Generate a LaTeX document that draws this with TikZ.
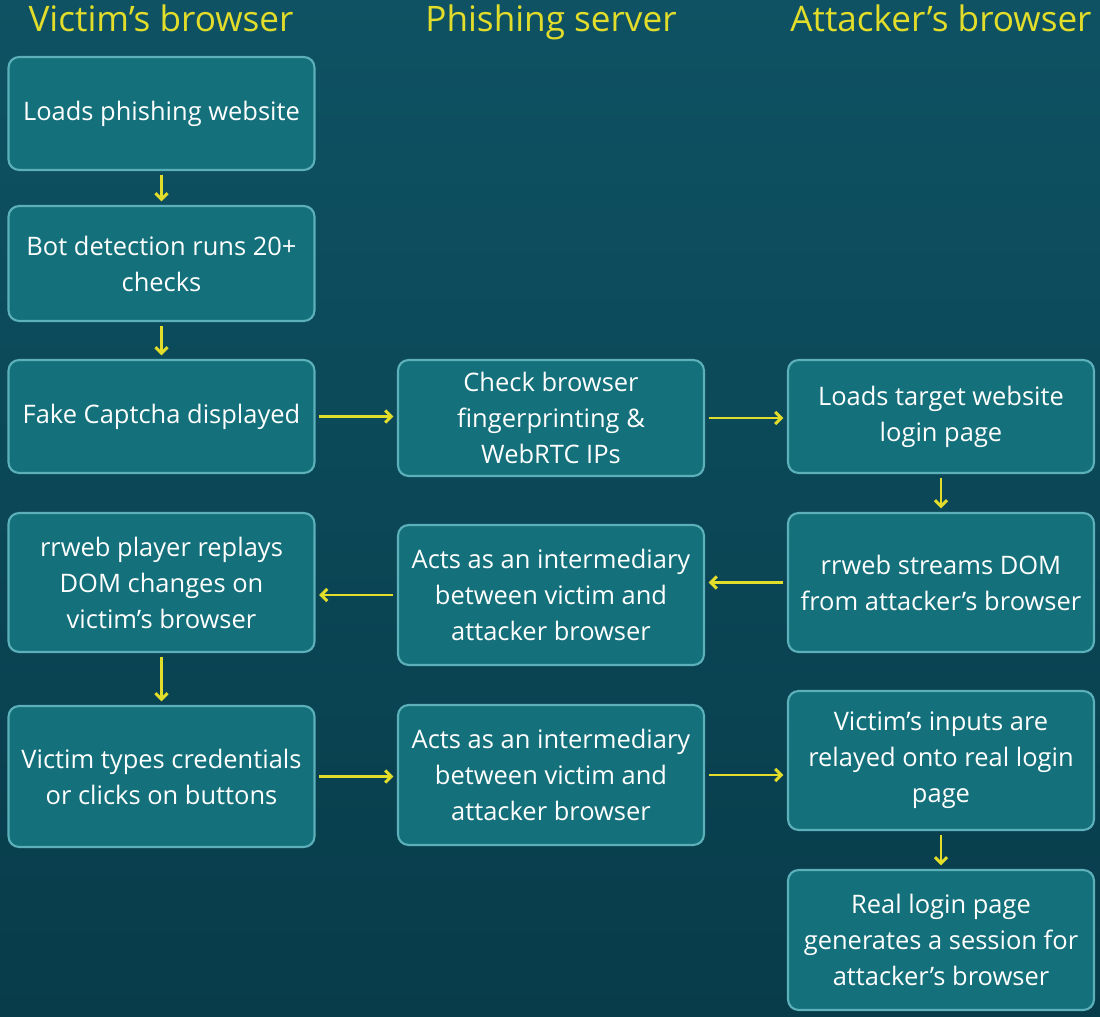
\documentclass[tikz,border=0pt]{standalone}
\usepackage{fontspec}
\setmainfont{Open Sans}
\usetikzlibrary{arrows.meta}
\definecolor{bgtop}{HTML}{0E5263}
\definecolor{bgbot}{HTML}{083C4A}
\definecolor{boxfill}{HTML}{14707A}
\definecolor{boxline}{HTML}{5CB0BA}
\definecolor{flow}{HTML}{E2DC2A}
\tikzset{
  stage/.style={draw=boxline, fill=boxfill, line width=1.2pt, rounded corners=6pt,
    text=white, font=\fontsize{14.5}{20.5}\selectfont, align=center,
    minimum width=6.12cm, inner sep=0pt},
  head/.style={text=flow, font=\fontsize{20}{24}\selectfont, anchor=base},
  link/.style={draw=flow, line width=1.7pt, -{Straight Barb[length=3.5pt,width=7pt]}, shorten >=2pt, shorten <=2pt}
}
\begin{document}
\begin{tikzpicture}[x=0.02cm, y=-0.02cm]
	\shade[top color=bgtop, bottom color=bgbot] (0,0) rectangle (1100,1017);
	\useasboundingbox (0,0) rectangle (1100,1017);

	\node[head] (victim) at (161,32) {Victim’s browser};
	\node[head] (server) at (551,32) {Phishing server};
	\node[head] (attacker) at (941,32) {Attacker’s browser};

	\begin{scope}[every node/.style={stage}]
		\node[minimum height=2.26cm] (V1) at (161.5,113.5) {Loads phishing website};
		\node[minimum height=2.3cm] (V2) at (161.5,263.5) {Bot detection runs 20+\\checks};
		\node[minimum height=2.26cm] (V3) at (161.5,416.5) {Fake Captcha displayed};
		\node[minimum height=2.78cm] (V4) at (161.5,582.5) {rrweb player replays\\DOM changes on\\victim’s browser};
		\node[minimum height=2.82cm] (V5) at (161.5,776.5) {Victim types credentials\\or clicks on buttons};

		\node[minimum height=2.32cm] (S1) at (551,418) {Check browser\\fingerprinting \&\\WebRTC IPs};
		\node[minimum height=2.8cm] (S2) at (551,595) {Acts as an intermediary\\between victim and\\attacker browser};
		\node[minimum height=2.8cm] (S3) at (551,775) {Acts as an intermediary\\between victim and\\attacker browser};

		\node[minimum height=2.26cm] (A1) at (941,416.5) {Loads target website\\login page};
		\node[minimum height=2.78cm] (A2) at (941,582.5) {rrweb streams DOM\\from attacker’s browser};
		\node[minimum height=2.78cm] (A3) at (941,760.5) {Victim’s inputs are\\relayed onto real login\\page};
		\node[minimum height=2.8cm] (A4) at (941,940) {Real login page\\generates a session for\\attacker’s browser};
	\end{scope}

	\draw[link] (V1) -- (V2);
	\draw[link] (V2) -- (V3);
	\draw[link] (V3) -- (S1.west |- V3);
	\draw[link] (S1) -- (A1.west |- S1);
	\draw[link] (A1) -- (A2);
	\draw[link] (A2) -- (S2.east |- A2);
	\draw[link] (S2) -- (V4.east |- S2);
	\draw[link] (V4) -- (V5);
	\draw[link] (V5) -- (S3.west |- V5);
	\draw[link] (S3) -- (A3.west |- S3);
	\draw[link] (A3) -- (A4);
\end{tikzpicture}
\end{document}
